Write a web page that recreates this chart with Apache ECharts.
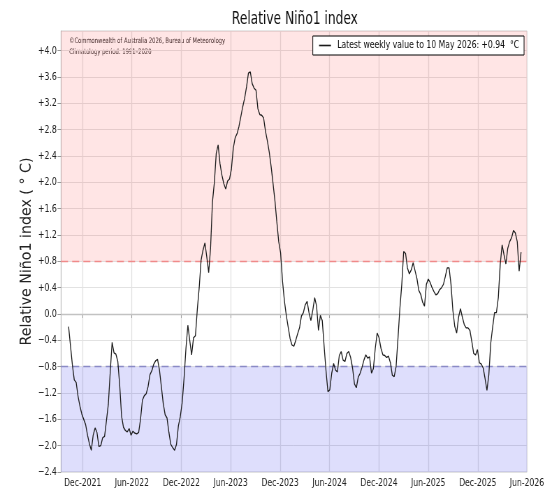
<!DOCTYPE html>
<html>
<head>
<meta charset="utf-8">
<script src="https://cdn.jsdelivr.net/npm/echarts@6/dist/echarts.min.js"></script>
<style>
  html, body { margin: 0; padding: 0; background: #fff; width: 545px; height: 489px; overflow: hidden; }
  /* the figure is laid out wide and squeezed horizontally to 545px */
  #chart { width: 780px; height: 489px; transform: scaleX(0.69872); transform-origin: 0 0; }
</style>
</head>
<body>
<div id="chart"></div>
<script>
// Weekly relative Niño1 index, one value per week starting Sunday 10 Oct 2021
const firstWeek = [2021, 9, 10];
const weeklyValues = [
  -0.19, -0.48, -0.77, -1.00, -1.04, -1.25, -1.40, -1.52, -1.60, -1.68,
  -1.84, -1.97, -2.07, -1.84, -1.73, -1.80, -2.01, -2.00, -1.88, -1.86,
  -1.62, -1.37, -0.88, -0.43, -0.59, -0.61, -0.72, -1.08, -1.55, -1.72,
  -1.77, -1.79, -1.74, -1.84, -1.78, -1.81, -1.82, -1.80, -1.60, -1.31,
  -1.24, -1.21, -1.10, -0.92, -0.86, -0.76, -0.71, -0.69, -0.85, -1.10,
  -1.36, -1.53, -1.58, -1.80, -1.98, -2.03, -2.07, -1.98, -1.70, -1.56,
  -1.35, -0.97, -0.52, -0.17, -0.40, -0.62, -0.36, -0.33, 0.07, 0.40,
  0.82, 0.97, 1.08, 0.87, 0.63, 1.00, 1.70, 2.00, 2.44, 2.57,
  2.28, 2.11, 1.98, 1.90, 2.02, 2.05, 2.20, 2.52, 2.68, 2.74,
  2.85, 3.00, 3.15, 3.28, 3.45, 3.66, 3.68, 3.50, 3.43, 3.40,
  3.12, 3.03, 3.02, 2.98, 2.78, 2.63, 2.46, 2.24, 1.98, 1.72,
  1.40, 1.10, 0.93, 0.50, 0.20, -0.02, -0.20, -0.37, -0.47, -0.49,
  -0.40, -0.30, -0.21, -0.03, 0.02, 0.14, 0.19, 0.02, -0.10, 0.06,
  0.25, 0.12, -0.25, -0.02, -0.10, -0.50, -0.87, -1.18, -1.15, -0.90,
  -0.75, -0.85, -0.88, -0.63, -0.57, -0.70, -0.72, -0.60, -0.57, -0.66,
  -0.82, -1.06, -1.12, -0.96, -0.90, -0.81, -0.70, -0.62, -0.67, -0.65,
  -0.90, -0.83, -0.52, -0.29, -0.36, -0.52, -0.62, -0.63, -0.66, -0.64,
  -0.74, -0.93, -0.95, -0.80, -0.37, 0.08, 0.45, 0.95, 0.92, 0.70,
  0.61, 0.67, 0.78, 0.66, 0.54, 0.36, 0.30, 0.18, 0.12, 0.45,
  0.53, 0.48, 0.40, 0.34, 0.29, 0.31, 0.37, 0.40, 0.45, 0.57,
  0.70, 0.70, 0.45, 0.05, -0.19, -0.29, -0.05, 0.08, -0.05, -0.16,
  -0.21, -0.21, -0.25, -0.42, -0.60, -0.62, -0.54, -0.74, -0.76, -0.82,
  -0.98, -1.16, -0.92, -0.44, -0.20, 0.02, 0.02, 0.25, 0.75, 1.05,
  0.90, 0.76, 1.00, 1.10, 1.16, 1.27, 1.23, 1.10, 0.65, 0.94
];
const tickDates = [
  [2021, 11, 1], [2022, 5, 1], [2022, 11, 1], [2023, 5, 1], [2023, 11, 1],
  [2024, 5, 1], [2024, 11, 1], [2025, 5, 1], [2025, 11, 1], [2026, 5, 1]
];
const tickLabels = [
  'Dec-2021', 'Jun-2022', 'Dec-2022', 'Jun-2023', 'Dec-2023',
  'Jun-2024', 'Dec-2024', 'Jun-2025', 'Dec-2025', 'Jun-2026'
];
const yTicks = [-2.4, -2.0, -1.6, -1.2, -0.8, -0.4, 0.0, 0.4, 0.8, 1.2, 1.6, 2.0, 2.4, 2.8, 3.2, 3.6, 4.0];
const yRange = [-2.4, 4.3];
const xRange = [[2021, 8, 12], [2026, 5, 1]];
const warmThreshold = 0.8;
const coolThreshold = -0.8;
const latestDateText = '10 May 2026';
const yTitle = 'Relative Niño1 index ( \u00b0 C)';

const DAY = 86400000;
const utc = d => Date.UTC(d[0], d[1], d[2]);
const start = utc(firstWeek);
const seriesData = weeklyValues.map((v, i) => [start + i * 7 * DAY, v]);
const tickTimes = tickDates.map(utc);
const latest = weeklyValues[weeklyValues.length - 1];
const signed = v => (v > 0 ? '+' : v < 0 ? '\u2212' : '') + Math.abs(v).toFixed(2);
const seriesName = 'Latest weekly value to ' + latestDateText + ': ' + signed(latest) + '  \u00b0C';

const squeeze = 0.69872;   // horizontal squeeze applied to the whole figure in CSS
const font = "'DejaVu Sans',sans-serif";

const chart = echarts.init(document.getElementById('chart'), null, { renderer: 'canvas' });
chart.setOption({
  animation: false,
  backgroundColor: '#ffffff',
  title: {
    text: 'Relative Niño1 index',
    left: 417, top: 5, textAlign: 'center',
    textStyle: { fontFamily: font, fontSize: 17.5, fontWeight: 'normal', color: '#111' }
  },
  grid: {
    left: 87.3, right: 25.8, top: 31, bottom: 17,
    outerBoundsMode: 'none',
    show: true, borderColor: '#cfcfcf', borderWidth: 1, backgroundColor: 'transparent'
  },
  legend: {
    right: 30, top: 36,
    data: [{ name: seriesName, icon: 'rect' }],
    backgroundColor: '#ffffff',
    borderColor: '#000', borderWidth: 1, borderRadius: 0,
    padding: [4, 7, 4, 9],
    itemWidth: 17, itemHeight: 1.6, itemGap: 6,
    textStyle: { fontFamily: font, fontSize: 11, color: '#111', padding: [0, 0, 0, 4] }
  },
  graphic: [
    { type: 'text', left: 99, top: 37.5, style: { text: '\u00a9Commonwealth of Australia 2026, Bureau of Meteorology', font: "7.5px 'DejaVu Sans',sans-serif", fill: '#333' } },
    { type: 'text', left: 99, top: 48, style: { text: 'Climatology period: 1991\u20132020', font: "7.5px 'DejaVu Sans',sans-serif", fill: '#333' } },
    {
      // vertical axis title, kept at its natural glyph width
      type: 'text', x: 38.6, y: 251.5, rotation: Math.PI / 2, scaleY: 1 / squeeze,
      style: { text: yTitle, x: 0, y: 0, align: 'center', verticalAlign: 'middle', font: "14.2px 'DejaVu Sans',sans-serif", fill: '#222' }
    }
  ],
  xAxis: {
    type: 'value',
    min: utc(xRange[0]), max: utc(xRange[1]),
    axisLine: { show: true, lineStyle: { color: '#b8b8b8' } },
    axisTick: { show: true, customValues: tickTimes, length: 4, lineStyle: { color: '#999' } },
    axisLabel: {
      customValues: tickTimes,
      formatter: v => tickLabels[tickTimes.indexOf(v)] || '',
      fontFamily: font, fontSize: 11, color: '#222', margin: 6, hideOverlap: false
    },
    splitLine: { show: true, lineStyle: { color: '#e2e2e2', width: 1.3 } }
  },
  yAxis: {
    type: 'value',
    min: yRange[0], max: yRange[1],
    axisLine: { show: true, lineStyle: { color: '#b8b8b8' } },
    axisTick: { show: true, customValues: yTicks, length: 5, lineStyle: { color: '#999' } },
    axisLabel: {
      customValues: yTicks,
      formatter: v => (v > 0.001 ? '+' : v < -0.001 ? '\u2212' : '') + Math.abs(v).toFixed(1),
      fontFamily: font, fontSize: 11, color: '#222', margin: 6
    },
    splitLine: { show: true, lineStyle: { color: '#e2e2e2', width: 1 } }
  },
  series: [
    {
      name: 'bands',
      type: 'line',
      data: [],
      silent: true,
      markArea: {
        silent: true,
        data: [
          [{ yAxis: warmThreshold, itemStyle: { color: 'rgba(255,0,0,0.1)' } }, { yAxis: yRange[1] }],
          [{ yAxis: yRange[0], itemStyle: { color: 'rgba(0,0,230,0.13)' } }, { yAxis: coolThreshold }]
        ]
      },
      markLine: {
        silent: true, symbol: 'none', label: { show: false },
        data: [
          { yAxis: 0, lineStyle: { color: '#c2c2c2', type: 'solid', width: 1.3 } },
          { yAxis: warmThreshold, lineStyle: { color: '#f08a8a', type: [10, 6], width: 1.3 } },
          { yAxis: coolThreshold, lineStyle: { color: '#8a8ac6', type: [10, 6], width: 1.3 } }
        ]
      }
    },
    {
      name: seriesName,
      type: 'line',
      data: seriesData,
      showSymbol: false,
      symbol: 'none',
      lineStyle: { color: '#1a1a1a', width: 1.3 },
      itemStyle: { color: '#1a1a1a' },
      z: 5
    }
  ]
});
</script>
</body>
</html>
